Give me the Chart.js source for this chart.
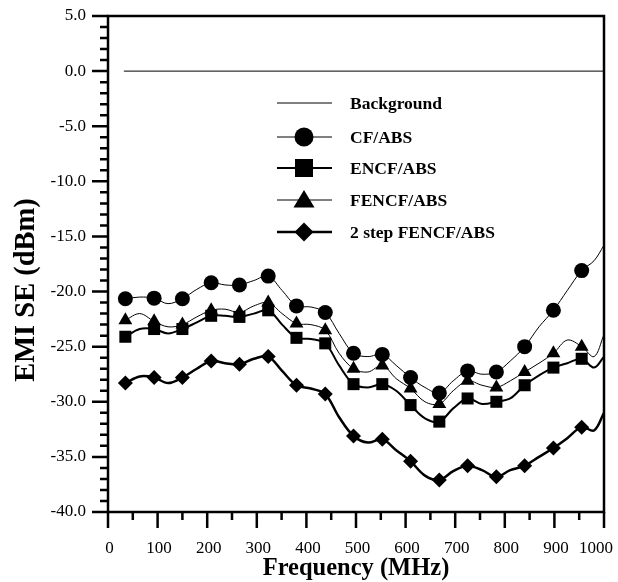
<!DOCTYPE html>
<html>
<head>
<meta charset="utf-8">
<script src="https://cdn.jsdelivr.net/npm/chart.js@4/dist/chart.umd.min.js"></script>
<style>
  html, body { margin: 0; padding: 0; background: #fff; }
  #wrap { width: 618px; height: 582px; }
</style>
</head>
<body>
<div id="wrap"><canvas id="grafico" width="618" height="582"></canvas></div>
<script>
// --- DATOS ---
const freq = [35, 64, 93, 121, 150, 179, 208, 236, 265, 294, 323, 351, 380, 409, 438, 466, 495,
  524, 553, 581, 610, 639, 668, 696, 725, 754, 783, 811, 840, 869, 898, 926, 955, 980, 1000];

const cfAbs = [-20.65, -20.5, -20.6, -21.1, -20.65, -19.8, -19.2, -19.4, -19.4, -19.0, -18.6, -19.9,
  -21.3, -21.4, -21.9, -23.8, -25.6, -25.9, -25.7, -26.7, -27.8, -28.7, -29.2, -28.1, -27.2, -27.5,
  -27.3, -26.3, -25.0, -23.2, -21.7, -19.9, -18.1, -17.2, -15.8];

const encfAbs = [-24.1, -23.4, -23.4, -23.8, -23.4, -22.8, -22.2, -22.2, -22.3, -22.0, -21.7, -23.0,
  -24.2, -24.3, -24.7, -26.7, -28.4, -28.7, -28.4, -29.0, -30.3, -31.5, -31.8, -30.6, -29.7, -30.2,
  -30.0, -29.7, -28.5, -27.6, -26.9, -26.5, -26.1, -26.9, -25.9];

const fencfAbs = [-22.6, -22.0, -22.7, -23.2, -23.0, -22.3, -21.7, -21.6, -21.9, -21.3, -21.0, -22.0,
  -22.9, -23.0, -23.5, -25.6, -27.0, -27.3, -26.7, -27.9, -28.8, -30.0, -30.2, -29.0, -28.1, -28.5,
  -28.7, -28.1, -27.3, -26.5, -25.6, -24.4, -25.0, -25.9, -23.9];

const step2Fencf = [-28.3, -27.7, -27.8, -28.3, -27.8, -27.0, -26.3, -26.5, -26.6, -26.1, -25.9, -27.2,
  -28.5, -28.8, -29.3, -31.4, -33.1, -33.7, -33.4, -34.4, -35.4, -36.7, -37.1, -36.3, -35.8, -36.2,
  -36.8, -36.2, -35.8, -35.0, -34.2, -33.3, -32.3, -32.6, -31.0];

const bgFreq = [32, 1000];
const bgValues = [0.0, 0.0];

const xTicks = [0, 100, 200, 300, 400, 500, 600, 700, 800, 900, 1000];
const yTicks = [5, 0, -5, -10, -15, -20, -25, -30, -35, -40];

const seriesNames = ['Background', 'CF/ABS', 'ENCF/ABS', 'FENCF/ABS', '2 step FENCF/ABS'];

// marcadores solo en los puntos medidos (índices pares, hasta 955 MHz)
const esMarcador = ctx => ctx.dataIndex % 2 === 0 && ctx.dataIndex <= 32;

function puntos(xs, ys) {
  return xs.map((x, i) => ({ x: x, y: ys[i] }));
}

function serie(label, ys, estilo, radio, grosor) {
  return {
    label: label,
    data: puntos(freq, ys),
    borderColor: '#000',
    backgroundColor: '#000',
    borderWidth: grosor,
    pointStyle: estilo,
    pointRadius: ctx => esMarcador(ctx) ? radio : 0,
    pointHoverRadius: 0,
    pointBorderWidth: 0,
    tension: 0.35
  };
}

// dibuja un marcador de la leyenda
function marcador(ctx, estilo, x, y, r) {
  ctx.beginPath();
  if (estilo === 'circle') {
    ctx.arc(x, y, r, 0, Math.PI * 2);
  } else if (estilo === 'rect') {
    ctx.rect(x - r, y - r, 2 * r, 2 * r);
  } else if (estilo === 'triangle') {
    ctx.moveTo(x, y - r);
    ctx.lineTo(x + r * 1.05, y + r * 0.75);
    ctx.lineTo(x - r * 1.05, y + r * 0.75);
    ctx.closePath();
  } else if (estilo === 'rectRot') {
    ctx.moveTo(x, y - r);
    ctx.lineTo(x + r, y);
    ctx.lineTo(x, y + r);
    ctx.lineTo(x - r, y);
    ctx.closePath();
  }
  ctx.fill();
}

const fuenteTicks = { family: '"Liberation Serif", serif', size: 17 };

const marcoYLeyenda = {
  id: 'marcoYLeyenda',
  afterDraw(chart) {
    const ctx = chart.ctx;
    const a = chart.chartArea;
    const sx = chart.scales.x, sy = chart.scales.y;
    ctx.save();
    ctx.strokeStyle = '#000';
    ctx.fillStyle = '#000';

    // marco
    ctx.lineWidth = 2.5;
    ctx.strokeRect(a.left, a.top, a.right - a.left, a.bottom - a.top);

    // marcas del eje y (mayores cada 5, menores cada 1)
    ctx.beginPath();
    for (let v = -40; v <= 5; v++) {
      const py = sy.getPixelForValue(v);
      const len = v % 5 === 0 ? 16 : 8;
      ctx.moveTo(a.left, py);
      ctx.lineTo(a.left - len, py);
    }
    // marcas del eje x (mayores cada 100, menores cada 50)
    for (let v = 0; v <= 1000; v += 50) {
      const px = sx.getPixelForValue(v);
      const len = v % 100 === 0 ? 16 : 8;
      ctx.moveTo(px, a.bottom);
      ctx.lineTo(px, a.bottom + len);
    }
    ctx.stroke();

    // etiquetas del eje x (la última se recorre para que quepa)
    ctx.font = fuenteTicks.size + 'px ' + fuenteTicks.family;
    ctx.textAlign = 'center';
    ctx.textBaseline = 'alphabetic';
    sx.ticks.forEach(t => {
      const txt = String(t.value);
      const w = ctx.measureText(txt).width;
      let cx = sx.getPixelForValue(t.value) + 1.5;
      cx = Math.min(cx, 613 - w / 2);
      ctx.fillText(txt, cx, 553);
    });

    // títulos de ejes
    ctx.textBaseline = 'middle';
    ctx.font = 'bold 24.5px "Liberation Serif", serif';
    ctx.fillText('Frequency (MHz)', (a.left + a.right) / 2, 569);
    ctx.save();
    ctx.translate(27, 290);
    ctx.rotate(-Math.PI / 2);
    ctx.font = 'bold 28.5px "Liberation Serif", serif';
    ctx.fillText('EMI SE (dBm)', 0, 0);
    ctx.restore();

    // leyenda
    const filas = [103, 137, 168, 200, 232];
    const estilos = [null, 'circle', 'rect', 'triangle', 'rectRot'];
    const tamanos = [0, 9.5, 9, 10, 9.5];
    const grosores = [1, 1, 2, 1, 2.5];
    ctx.textAlign = 'left';
    ctx.font = 'bold 17.5px "Liberation Serif", serif';
    filas.forEach((fy, i) => {
      ctx.lineWidth = grosores[i];
      ctx.beginPath();
      ctx.moveTo(277, fy);
      ctx.lineTo(332, fy);
      ctx.stroke();
      if (estilos[i]) marcador(ctx, estilos[i], 304, fy, tamanos[i]);
      ctx.fillText(seriesNames[i], 350, fy + 1);
    });
    ctx.restore();
  }
};

// sin relleno automático de etiquetas: el área queda fija
function sinRelleno(s) {
  s.paddingTop = 0;
  s.paddingBottom = 0;
  s.paddingLeft = 0;
  s.paddingRight = 0;
}

new Chart(document.getElementById('grafico').getContext('2d'), {
  type: 'line',
  data: {
    datasets: [
      {
        label: seriesNames[0],
        data: puntos(bgFreq, bgValues),
        borderColor: '#000',
        borderWidth: 1,
        pointRadius: 0,
        tension: 0
      },
      serie(seriesNames[1], cfAbs, 'circle', 7.5, 1),
      serie(seriesNames[2], encfAbs, 'rect', 8.5, 2),
      serie(seriesNames[3], fencfAbs, 'triangle', 8, 1),
      serie(seriesNames[4], step2Fencf, 'rectRot', 7.5, 2.5)
    ]
  },
  options: {
    responsive: false,
    animation: false,
    devicePixelRatio: 1,
    layout: { padding: { top: 16, right: 14, left: 0, bottom: 0 } },
    plugins: {
      legend: { display: false },
      tooltip: { enabled: false }
    },
    scales: {
      x: {
        type: 'linear',
        min: 0,
        max: 1000,
        afterFit: s => { s.height = 70; sinRelleno(s); },
        afterBuildTicks: s => { s.ticks = xTicks.map(v => ({ value: v })); },
        grid: { display: false, drawTicks: false },
        border: { display: false },
        ticks: { display: false }
      },
      y: {
        type: 'linear',
        min: -40,
        max: 5,
        afterFit: s => { s.width = 108; sinRelleno(s); },
        afterBuildTicks: s => { s.ticks = yTicks.map(v => ({ value: v })); },
        grid: { display: false, drawTicks: false },
        border: { display: false },
        ticks: {
          color: '#000',
          font: fuenteTicks,
          padding: 22,
          autoSkip: false,
          callback: v => Number(v).toFixed(1)
        }
      }
    }
  },
  plugins: [marcoYLeyenda]
});
</script>
</body>
</html>
